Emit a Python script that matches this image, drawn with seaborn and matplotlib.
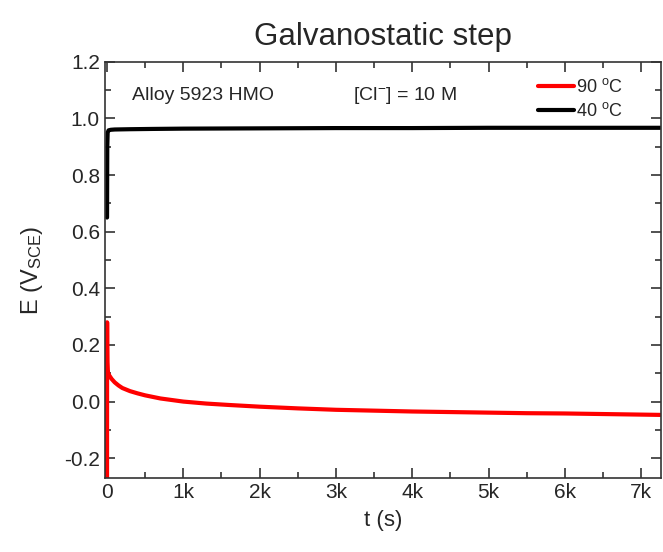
import matplotlib
matplotlib.use("Agg")
import matplotlib.pyplot as plt
import matplotlib.ticker as mticker
import seaborn as sns
import pandas as pd

t_90 = [0, 1, 2, 4, 8, 15, 30, 60, 100, 150, 200, 300, 400, 500, 700, 1000,
        1300, 1600, 2000, 2500, 3000, 3500, 4000, 4500, 5000, 5500, 6000, 6500, 7000, 7250]
E_90 = [-0.27, 0.28, 0.20, 0.14, 0.11, 0.10, 0.092, 0.08, 0.068, 0.057, 0.048, 0.037,
        0.029, 0.022, 0.011, 0.0, -0.007, -0.012, -0.018, -0.024, -0.029, -0.032,
        -0.035, -0.037, -0.039, -0.041, -0.042, -0.044, -0.046, -0.047]

t_40 = [0, 3, 8, 20, 50, 100, 300, 600, 1000, 2000, 3000, 4000, 5000, 6000, 7000, 7250]
E_40 = [0.65, 0.90, 0.95, 0.958, 0.96, 0.961, 0.962, 0.963, 0.964, 0.965, 0.966,
        0.966, 0.967, 0.967, 0.967, 0.967]

df = pd.concat([
    pd.DataFrame({"t": t_90, "E": E_90, "T": "90 $^{\\mathrm{o}}$C"}),
    pd.DataFrame({"t": t_40, "E": E_40, "T": "40 $^{\\mathrm{o}}$C"}),
])

sns.set_theme(style="ticks")
plt.rcParams["font.family"] = ["Liberation Sans", "DejaVu Sans"]
plt.rcParams["mathtext.fontset"] = "custom"
plt.rcParams["mathtext.rm"] = "Liberation Sans"
plt.rcParams["mathtext.it"] = "Liberation Sans"

fig, ax = plt.subplots(figsize=(6.63, 5.52), dpi=100)
fig.subplots_adjust(left=0.158, right=0.997, top=0.888, bottom=0.134)

sns.lineplot(data=df, x="t", y="E", hue="T", palette=["#ff0000", "#000000"],
             linewidth=3, ax=ax, sort=False, estimator=None)

ax.set_xlim(-30, 7260)
ax.set_ylim(-0.27, 1.2)
ax.xaxis.set_major_locator(mticker.MultipleLocator(1000))
ax.xaxis.set_minor_locator(mticker.MultipleLocator(500))
ax.yaxis.set_major_locator(mticker.MultipleLocator(0.2))
ax.yaxis.set_minor_locator(mticker.MultipleLocator(0.1))
ax.xaxis.set_major_formatter(mticker.FuncFormatter(
    lambda v, p: "0" if v == 0 else f"{int(v/1000)}k"))
ax.yaxis.set_major_formatter(mticker.FormatStrFormatter("%.1f"))
ax.tick_params(which="both", direction="in", top=True, right=True,
               labelsize=15, width=1.2, color="#333333")
ax.tick_params(which="major", length=7)
ax.tick_params(which="minor", length=4)
for s in ax.spines.values():
    s.set_linewidth(1.2)
    s.set_color("#333333")

ax.set_xlabel("t (s)", fontsize=16, labelpad=6)
ax.set_ylabel("E (V$_{\\mathrm{SCE}}$)", fontsize=17, labelpad=14)
ax.set_title("Galvanostatic step", fontsize=22.5, pad=12)

ax.text(330, 1.08, "Alloy 5923 HMO", fontsize=14, va="center")
ax.text(3220, 1.08, "[Cl$^{-}$] = 10 M", fontsize=14, va="center")

ax.legend(loc="upper right", frameon=False, fontsize=13, handlelength=2.0,
          handletextpad=0.1, borderaxespad=0.5, labelspacing=0.35,
          bbox_to_anchor=(0.96, 1.0))

fig.savefig("out.png", dpi=100)
